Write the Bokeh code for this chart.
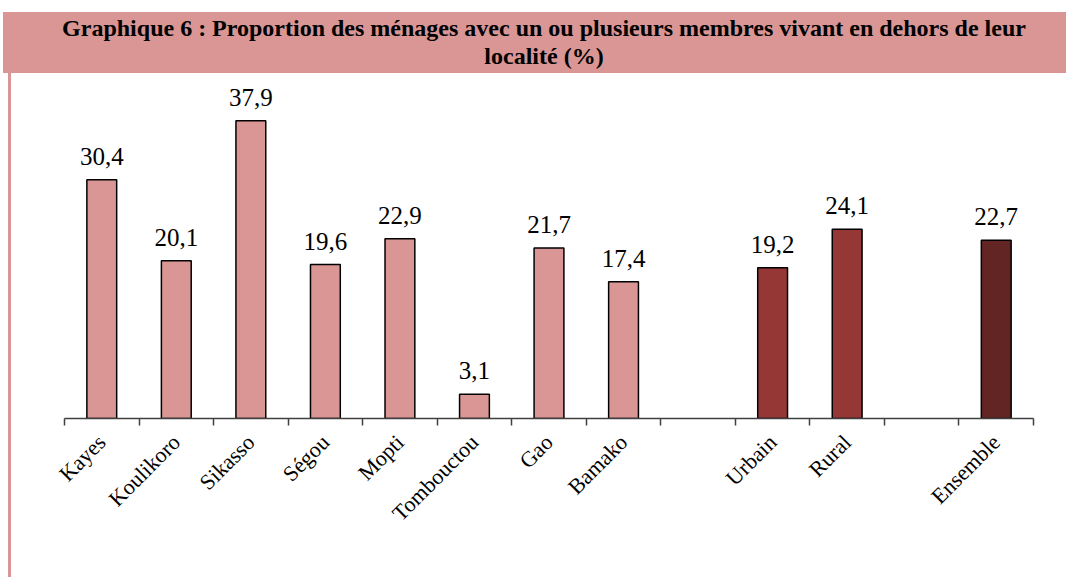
import math
from bokeh.plotting import figure
from bokeh.models import (Range1d, LinearAxis, FixedTicker, CustomJSTickFormatter,
                          ColumnDataSource, LabelSet, Div)
from bokeh.layouts import column, row
from bokeh.embed import file_html
from bokeh.resources import INLINE

# ---- data ----
categories = ["Kayes", "Koulikoro", "Sikasso", "Ségou", "Mopti", "Tombouctou", "Gao", "Bamako",
              "", "Urbain", "Rural", "", "Ensemble"]
bar_categories = ["Kayes", "Koulikoro", "Sikasso", "Ségou", "Mopti", "Tombouctou", "Gao", "Bamako",
                  "Urbain", "Rural", "Ensemble"]
values = [30.4, 20.1, 37.9, 19.6, 22.9, 3.1, 21.7, 17.4, 19.2, 24.1, 22.7]
groups = ["region"] * 8 + ["milieu"] * 2 + ["total"]
title_text = ("Graphique 6 : Proportion des ménages avec un ou plusieurs membres vivant en dehors de leur"
              "<br>localité (%)")

# ---- styles ----
group_colors = {"region": "#D99694", "milieu": "#953735", "total": "#632523"}
PINK = "#D99694"
FONT = "'Liberation Serif', 'Times New Roman', Times, serif"
AXIS_COLOR = "#404040"

n = len(categories)
slot_centers = [i + 0.5 for i in range(n)]
bar_x = [categories.index(c) + 0.5 for c in bar_categories]
labels = [f"{v:.1f}".replace(".", ",") for v in values]
source = ColumnDataSource(dict(x=bar_x, val=values, lab=labels,
                               color=[group_colors[g] for g in groups]))

p = figure(width=1047, height=504, x_range=Range1d(0, n),
           y_range=Range1d(0, 43.8), output_backend="svg", toolbar_location=None,
           x_axis_location=None, y_axis_location=None,
           min_border_left=53, min_border_right=25, min_border_top=1, min_border_bottom=159)
p.outline_line_color = None
p.xgrid.visible = False
p.ygrid.visible = False
p.background_fill_color = "white"
p.border_fill_color = "white"

p.vbar(x="x", top="val", width=0.4, source=source, fill_color="color",
       line_color="black", line_width=1.5)

p.add_layout(LabelSet(x="x", y="val", text="lab", source=source, text_align="center",
                      text_baseline="alphabetic", y_offset=15, text_font=FONT,
                      text_font_size="25px", text_color="black"))

# axis line with ticks at category boundaries (no labels)
tick_axis = LinearAxis(ticker=FixedTicker(ticks=list(range(n + 1))),
                       formatter=CustomJSTickFormatter(code="return ''"),
                       major_tick_out=7, major_tick_in=0, minor_tick_line_color=None,
                       axis_line_color=AXIS_COLOR, axis_line_width=1.5,
                       major_tick_line_color=AXIS_COLOR, major_tick_line_width=1.5,
                       major_label_standoff=0, major_label_text_font_size="1px")
p.add_layout(tick_axis, "below")

# category labels at slot centres
label_axis = LinearAxis(ticker=FixedTicker(ticks=slot_centers),
                        formatter=CustomJSTickFormatter(args=dict(cats=categories),
                                                        code="return cats[Math.round(tick - 0.5)];"),
                        axis_line_color=None, major_tick_line_color=None,
                        minor_tick_line_color=None,
                        major_label_orientation=math.pi / 4, major_label_standoff=7,
                        major_label_text_font=FONT, major_label_text_font_size="22px",
                        major_label_text_color="black")
p.add_layout(label_axis, "below")

title = Div(text=(f'<div style="width:1063px;box-sizing:border-box;text-align:center;'
                  f'font-family:{FONT};font-weight:bold;'
                  f'font-size:24px;line-height:28px;padding-top:2px;padding-left:19px;color:black">'
                  f'{title_text}</div>'),
            width=1063, height=61, margin=(12, 0, 0, 3),
            styles={"background-color": PINK})
left_line = Div(text="", width=3, height=504, margin=(0, 0, 0, 8),
                styles={"background-color": PINK})

layout = column(title, row(left_line, p, spacing=0), spacing=0)

open("out.html", "w").write(file_html(layout, INLINE))
